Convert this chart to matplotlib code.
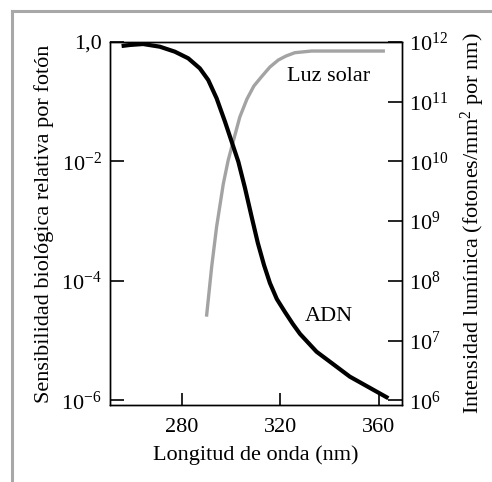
import matplotlib
matplotlib.use("Agg")
import matplotlib.pyplot as plt
from matplotlib.lines import Line2D
from matplotlib.ticker import FixedLocator, FixedFormatter

plt.rcParams['font.family'] = ['Liberation Serif', 'DejaVu Serif']
plt.rcParams['mathtext.fontset'] = 'custom'
plt.rcParams['mathtext.rm'] = 'Liberation Serif'
plt.rcParams['mathtext.it'] = 'Liberation Serif:italic'
plt.rcParams['mathtext.bf'] = 'Liberation Serif:bold'

# ADN sensitivity (relative, per photon)
dna_wl = [255.7, 259.0, 264.4, 271.2, 277.3, 282.7, 287.4, 290.8, 294.2, 297.6,
          300.3, 303.0, 305.7, 308.5, 310.9, 313.4, 315.8, 318.6, 321.9, 325.1,
          328.0, 334.7, 348.2, 363.8]
dna_sens = [0.857, 0.891, 0.925, 0.834, 0.688, 0.533, 0.362, 0.231, 0.114, 0.0462,
            0.0214, 9.89e-3, 3.58e-3, 1.13e-3, 4.30e-4, 1.84e-4, 9.18e-5, 4.95e-5,
            3.00e-5, 1.89e-5, 1.29e-5, 6.49e-6, 2.48e-6, 1.08e-6]

# Sunlight intensity (photons/mm^2 per nm)
sun_wl = [290.1, 292.2, 294.2, 296.9, 298.9, 300.9, 303.6, 306.5, 309.3, 312.4,
          315.8, 319.2, 322.3, 325.9, 332.7, 362.4]
sun_int = [2.51e7, 1.72e8, 8.05e8, 4.18e9, 1.05e10, 2.14e10, 5.54e10, 1.11e11,
           1.83e11, 2.62e11, 3.81e11, 4.99e11, 5.82e11, 6.62e11, 7.06e11, 7.06e11]

x_ticks = [280, 320, 360]
left_ticks = [1.0, 1e-2, 1e-4, 1e-6]
left_labels = ['1,0', r'$10^{-2}$', r'$10^{-4}$', r'$10^{-6}$']
right_ticks = [1e6, 1e7, 1e8, 1e9, 1e10, 1e11, 1e12]
right_labels = [r'$10^{6}$', r'$10^{7}$', r'$10^{8}$', r'$10^{9}$',
                r'$10^{10}$', r'$10^{11}$', r'$10^{12}$']

fig = plt.figure(figsize=(4.92, 4.82), dpi=100)
ax = fig.add_axes([110/492, 1-405/482, (401.7-110)/492, (405-42)/482])
ax2 = ax.twinx()

fs = 16
ax.plot(dna_wl, dna_sens, color='black', lw=3.0, solid_capstyle='butt',
        solid_joinstyle='round', zorder=3)
ax2.plot(sun_wl, sun_int, color='#a3a3a3', lw=2.4, solid_capstyle='butt',
         solid_joinstyle='round')
ax.set_zorder(ax2.get_zorder() + 1)
ax.patch.set_visible(False)

ax.set_xlim(251.0, 369.2)
ax.set_yscale('log')
ax.set_ylim(10**-6.08, 1.0)
ax2.set_yscale('log')
ax2.set_ylim(10**5.92, 1e12)

ax.xaxis.set_major_locator(FixedLocator(x_ticks))
ax.xaxis.set_minor_locator(FixedLocator([]))
ax.yaxis.set_major_locator(FixedLocator(left_ticks))
ax.yaxis.set_major_formatter(FixedFormatter(left_labels))
ax.yaxis.set_minor_locator(FixedLocator([]))
ax2.yaxis.set_major_locator(FixedLocator(right_ticks))
ax2.yaxis.set_major_formatter(FixedFormatter(right_labels))
ax2.yaxis.set_minor_locator(FixedLocator([]))

ax.tick_params(axis='x', direction='in', length=9, width=1.2, labelsize=fs, pad=9)
ax.tick_params(axis='y', direction='in', length=10, width=1.2, labelsize=fs, pad=6)
ax2.tick_params(axis='y', direction='in', length=10, width=1.2, labelsize=fs, pad=5)

for a in (ax, ax2):
    for s in a.spines.values():
        s.set_linewidth(1.0)

ax.set_xlabel('Longitud de onda (nm)', fontsize=fs, labelpad=6)
ax.set_ylabel('Sensibilidad biológica relativa por fotón', fontsize=fs, labelpad=5)
ax2.set_ylabel('Intensidad lumínica (fotones/mm$^2$ por nm)', fontsize=fs, labelpad=8)

ax.text(322.6, 0.262, 'Luz solar', fontsize=fs, ha='left', va='center')
ax.text(330.0, 2.48e-5, 'ADN', fontsize=fs, ha='left', va='center')

# partial grey frame (top and left edges)
frame_col = '#a8a8a8'
fig.add_artist(Line2D([12/492, 12/492], [-0.1, 1-11/482], transform=fig.transFigure,
                      color=frame_col, lw=2.2))
fig.add_artist(Line2D([12/492, 1.1], [1-11/482, 1-11/482], transform=fig.transFigure,
                      color=frame_col, lw=2.2))

fig.savefig('out.png', dpi=100)
